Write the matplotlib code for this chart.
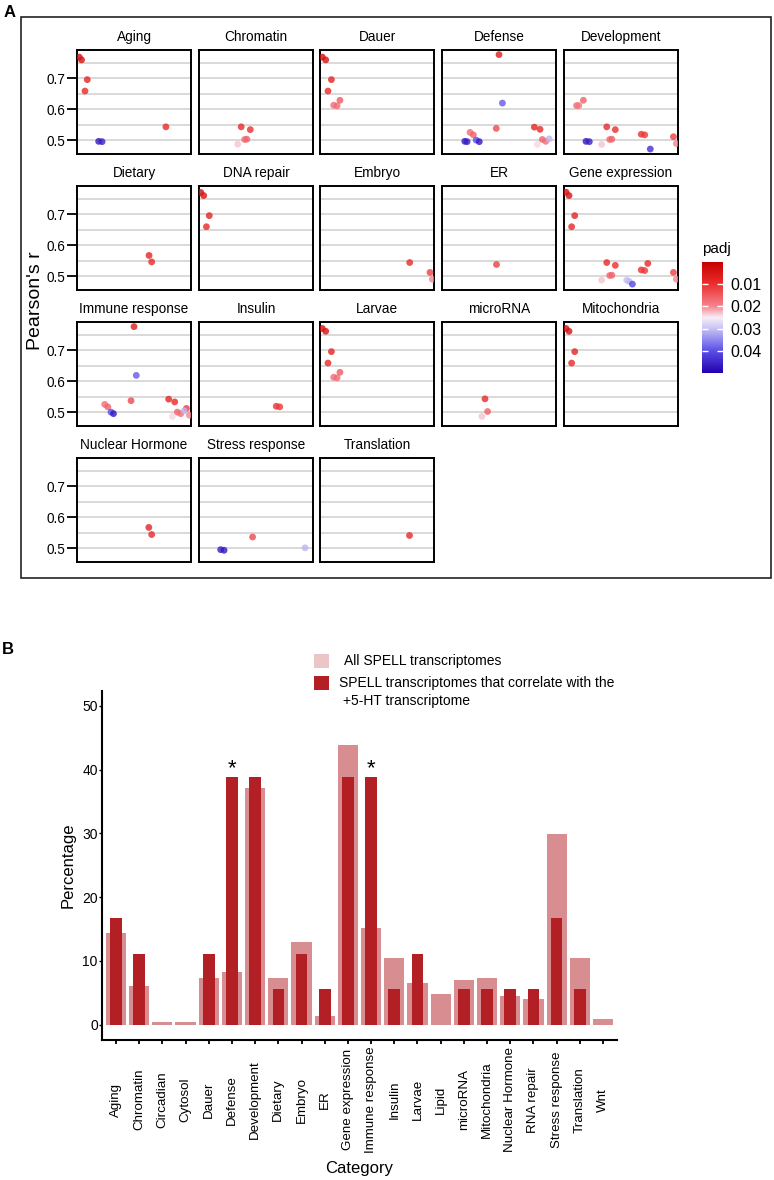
import numpy as np
import matplotlib
matplotlib.use('Agg')
import matplotlib.pyplot as plt
from matplotlib.colors import LinearSegmentedColormap, Normalize
from matplotlib.patches import Rectangle

plt.rcParams['font.family'] = ['Liberation Sans', 'DejaVu Sans']

W, H = 774, 1180

# ---------------- panel A: Pearson's r per facet ----------------
facets = ['Aging', 'Chromatin', 'Dauer', 'Defense', 'Development',
          'Dietary', 'DNA repair', 'Embryo', 'ER', 'Gene expression',
          'Immune response', 'Insulin', 'Larvae', 'microRNA', 'Mitochondria',
          'Nuclear Hormone', 'Stress response', 'Translation']

# (position in panel, Pearson's r, padj)
aging = ([0.02, 0.04, 0.09, 0.07, 0.78, 0.19, 0.22],
         [0.769, 0.760, 0.696, 0.659, 0.543, 0.496, 0.495],
         [0.003, 0.004, 0.008, 0.009, 0.009, 0.047, 0.046])
chromatin = ([0.37, 0.45, 0.40, 0.42, 0.34],
             [0.543, 0.534, 0.502, 0.503, 0.487],
             [0.009, 0.010, 0.017, 0.016, 0.023])
dauer = ([0.02, 0.05, 0.10, 0.07, 0.12, 0.15, 0.175],
         [0.769, 0.760, 0.696, 0.659, 0.613, 0.611, 0.629],
         [0.003, 0.004, 0.008, 0.009, 0.017, 0.017, 0.015])
defense = ([0.50, 0.53, 0.476, 0.246, 0.275, 0.20, 0.22, 0.30, 0.327, 0.81, 0.86, 0.88, 0.91, 0.94, 0.836],
           [0.777, 0.620, 0.538, 0.525, 0.517, 0.496, 0.495, 0.500, 0.495, 0.542, 0.535, 0.502, 0.496, 0.504, 0.486],
           [0.006, 0.039, 0.013, 0.017, 0.016, 0.047, 0.046, 0.040, 0.047, 0.008, 0.009, 0.016, 0.017, 0.031, 0.024])
development = ([0.11, 0.13, 0.17, 0.375, 0.45, 0.193, 0.222, 0.33, 0.40, 0.42, 0.678, 0.708, 0.757, 0.96, 0.985],
               [0.612, 0.612, 0.629, 0.543, 0.534, 0.496, 0.495, 0.486, 0.502, 0.503, 0.519, 0.517, 0.471, 0.511, 0.489],
               [0.017, 0.018, 0.016, 0.009, 0.010, 0.047, 0.046, 0.023, 0.017, 0.016, 0.010, 0.011, 0.044, 0.012, 0.020])
dietary = ([0.632, 0.655], [0.567, 0.546], [0.008, 0.009])
dna_repair = ([0.015, 0.041, 0.09, 0.065],
              [0.771, 0.761, 0.696, 0.660],
              [0.003, 0.004, 0.008, 0.009])
embryo = ([0.787, 0.965, 0.985], [0.544, 0.512, 0.490], [0.009, 0.012, 0.020])
er = ([0.476], [0.538], [0.012])
gene_expression = ([0.018, 0.044, 0.094, 0.067, 0.375, 0.45, 0.40, 0.42, 0.33, 0.678, 0.708, 0.735, 0.55, 0.57, 0.60, 0.96, 0.985],
                   [0.772, 0.761, 0.696, 0.660, 0.544, 0.535, 0.502, 0.503, 0.487, 0.520, 0.518, 0.541, 0.487, 0.483, 0.474, 0.512, 0.490],
                   [0.003, 0.004, 0.008, 0.009, 0.009, 0.010, 0.017, 0.016, 0.023, 0.010, 0.011, 0.009, 0.030, 0.031, 0.041, 0.012, 0.020])
immune_response = ([0.50, 0.52, 0.474, 0.243, 0.27, 0.298, 0.32, 0.804, 0.857, 0.88, 0.91, 0.96, 0.836, 0.985, 0.94],
                   [0.777, 0.619, 0.537, 0.525, 0.517, 0.500, 0.495, 0.542, 0.533, 0.500, 0.495, 0.512, 0.486, 0.490, 0.504],
                   [0.006, 0.039, 0.013, 0.017, 0.016, 0.040, 0.047, 0.008, 0.009, 0.016, 0.017, 0.012, 0.024, 0.020, 0.031])
insulin = ([0.678, 0.708], [0.519, 0.517], [0.010, 0.011])
larvae = ([0.02, 0.05, 0.10, 0.07, 0.12, 0.15, 0.175],
          [0.771, 0.762, 0.696, 0.659, 0.613, 0.611, 0.629],
          [0.003, 0.004, 0.008, 0.009, 0.017, 0.017, 0.015])
microrna = ([0.377, 0.40, 0.35], [0.543, 0.502, 0.486], [0.009, 0.016, 0.023])
mitochondria = ([0.018, 0.044, 0.094, 0.067],
                [0.771, 0.762, 0.696, 0.659],
                [0.003, 0.004, 0.008, 0.009])
nuclear_hormone = ([0.63, 0.655], [0.567, 0.544], [0.008, 0.009])
stress_response = ([0.19, 0.22, 0.47, 0.93], [0.495, 0.493, 0.536, 0.501], [0.046, 0.047, 0.013, 0.031])
translation = ([0.78], [0.543], [0.009])

facet_data = [aging, chromatin, dauer, defense, development, dietary, dna_repair,
              embryo, er, gene_expression, immune_response, insulin, larvae,
              microrna, mitochondria, nuclear_hormone, stress_response, translation]

# ---------------- panel B: category percentages ----------------
categories = ['Aging', 'Chromatin', 'Circadian', 'Cytosol', 'Dauer', 'Defense',
              'Development', 'Dietary', 'Embryo', 'ER', 'Gene expression',
              'Immune response', 'Insulin', 'Larvae', 'Lipid', 'microRNA',
              'Mitochondria', 'Nuclear Hormone', 'RNA repair', 'Stress response',
              'Translation', 'Wnt']
all_spell = [14.3, 6.1, 0.4, 0.4, 7.3, 8.2, 37.2, 7.3, 13.0, 1.3, 43.8, 15.1,
             10.4, 6.5, 4.8, 7.0, 7.3, 4.4, 4.0, 29.9, 10.4, 0.9]
correlated = [16.7, 11.1, 0, 0, 11.1, 38.9, 38.9, 5.6, 11.1, 5.6, 38.9, 38.9,
              5.6, 11.1, 0, 5.6, 5.6, 5.6, 5.6, 16.7, 5.6, 0]
significant = ['Defense', 'Immune response']

# ---------------- figure ----------------
fig = plt.figure(figsize=(W / 100, H / 100), dpi=100)

cmap = LinearSegmentedColormap.from_list(
    'padj', [(0, '#C40000'), (0.2, '#EC2E2E'), (0.4, '#F5858F'),
             (0.5, '#F8EEF6'), (0.6, '#C6C2F4'), (0.8, '#5A4EE8'), (1, '#2200AE')])
norm = Normalize(0.0, 0.05)

lefts = [77, 199, 320, 442, 564]
tops = [50, 186, 322, 458]
fw, fh = 114, 104

for i, name in enumerate(facets):
    r, c = divmod(i, 5)
    ax = fig.add_axes([lefts[c] / W, 1 - (tops[r] + fh) / H, fw / W, fh / H])
    xs, ys, ps = facet_data[i]
    ax.scatter(xs, ys, c=ps, cmap=cmap, norm=norm, s=24, alpha=0.8, lw=0, zorder=3)
    ax.set_xlim(0, 1)
    ax.set_ylim(0.455, 0.792)
    ax.set_yticks([0.5, 0.6, 0.7])
    ax.set_yticks([0.55, 0.65, 0.75], minor=True)
    ax.grid(True, axis='y', which='both', color='#cfcfcf', lw=1.1, zorder=1)
    ax.set_xticks([])
    ax.tick_params(which='minor', left=False)
    if c == 0:
        ax.set_yticklabels(['0.5', '0.6', '0.7'])
        ax.tick_params(axis='y', which='major', length=7, width=1.3, pad=1.5,
                       labelsize=9.8, color='black')
    else:
        ax.tick_params(axis='y', which='major', left=False, labelleft=False)
    for s in ax.spines.values():
        s.set_linewidth(1.4)
        s.set_color('black')
    ax.text(0.5, 1 + 13 / fh, name, transform=ax.transAxes, ha='center',
            va='center', fontsize=9.8)

fig.text(36 / W, 1 - 301 / H, "Pearson's r", rotation=90, ha='center',
         va='center', fontsize=14)

# colour bar
cax = fig.add_axes([701.7 / W, 1 - 373.3 / H, 21.6 / W, 111.6 / H])
sm = plt.cm.ScalarMappable(norm=norm, cmap=cmap)
cb = fig.colorbar(sm, cax=cax)
cb.outline.set_visible(False)
cax.invert_yaxis()
cb.set_ticks([0.01, 0.02, 0.03, 0.04])
cb.set_ticklabels(['0.01', '0.02', '0.03', '0.04'])
cax.tick_params(direction='in', color='white', length=4, width=1,
                labelsize=11.5, pad=5, left=True, right=True)
fig.text(702 / W, 1 - 253 / H, 'padj', fontsize=11, va='baseline')

# outer frame of panel A
fig.add_artist(Rectangle((21 / W, 1 - 578 / H), 750 / W, 561 / H, fill=False,
                         lw=1.2, edgecolor='#222222', transform=fig.transFigure))
fig.text(4 / W, 1 - 5 / H, 'A', fontsize=12, weight='bold', va='top')
fig.text(2 / W, 1 - 642 / H, 'B', fontsize=12, weight='bold', va='top')

# bar chart
axb = fig.add_axes([102 / W, 1 - 1040 / H, 515 / W, 349.3 / H])
xpos = np.arange(len(categories))
bar_col = '#B21F24'
axb.bar(xpos, all_spell, width=0.87, color=bar_col, alpha=0.5, lw=0, zorder=2)
axb.bar(xpos, correlated, width=0.5, color=bar_col, lw=0, zorder=3)
for cat in significant:
    k = categories.index(cat)
    axb.text(xpos[k], correlated[k] + 1.3, '*', ha='center', va='center', fontsize=16)
axb.set_xlim(-0.6, 21.6)
axb.set_ylim(-2.43, 52.4)
axb.set_yticks([0, 10, 20, 30, 40, 50])
axb.set_xticks(xpos)
axb.set_xticklabels(categories, rotation=90, ha='center', va='center', fontsize=9.6)
axb.tick_params(axis='x', length=3, width=1.3, pad=40)
axb.tick_params(axis='y', length=2, width=1.0, pad=1, labelsize=10)
axb.spines['top'].set_visible(False)
axb.spines['right'].set_visible(False)
axb.spines['left'].set_linewidth(1.5)
axb.spines['bottom'].set_linewidth(1.5)
axb.set_ylabel('Percentage', fontsize=12, labelpad=5)
fig.text(359.5 / W, 1 - 1173 / H, 'Category', ha='center', va='baseline', fontsize=12)

# legend
fig.add_artist(Rectangle((314 / W, 1 - 668 / H), 15 / W, 14 / H, facecolor=bar_col,
                         alpha=0.25, lw=0, transform=fig.transFigure))
fig.add_artist(Rectangle((314 / W, 1 - 690 / H), 15 / W, 14.3 / H, facecolor=bar_col,
                         lw=0, transform=fig.transFigure))
fig.text(344 / W, 1 - 661 / H, 'All SPELL transcriptomes', va='center', fontsize=10)
fig.text(339 / W, 1 - 683 / H, 'SPELL transcriptomes that correlate with the',
         va='center', fontsize=10)
fig.text(343 / W, 1 - 700.5 / H, '+5-HT transcriptome', va='center', fontsize=10)

fig.savefig('out.png', dpi=100)
